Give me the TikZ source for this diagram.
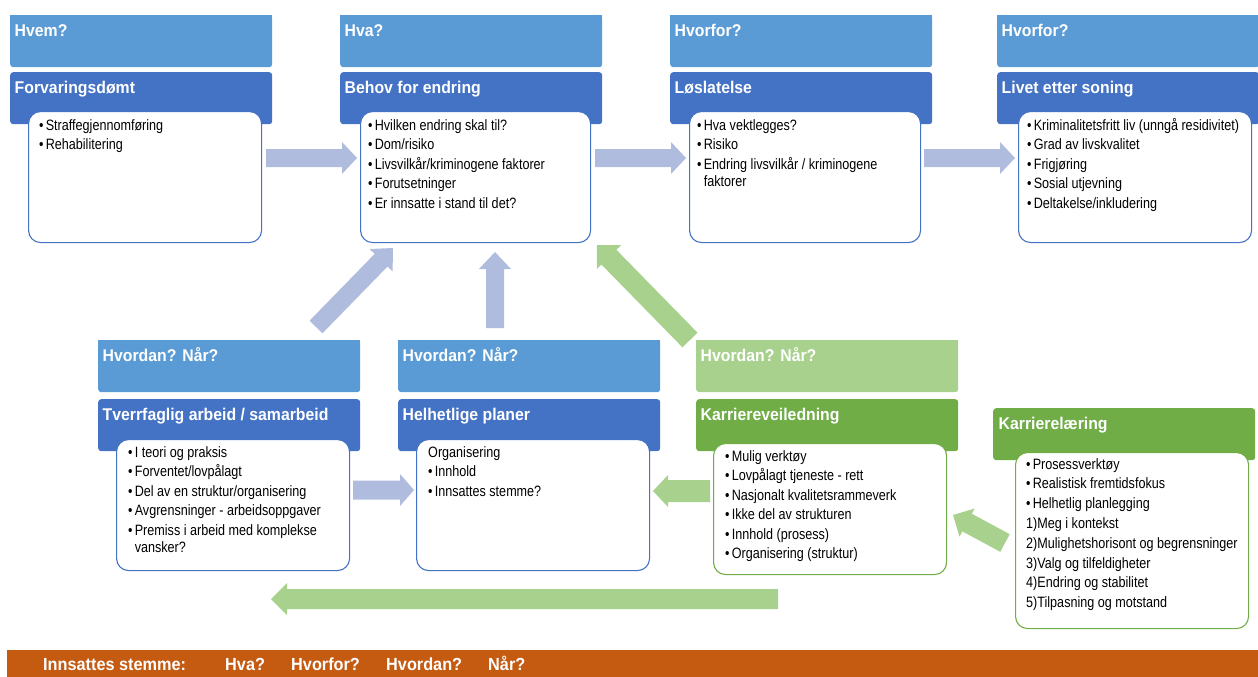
\documentclass[tikz,border=0pt]{standalone}
\usepackage{fontspec}
\setmainfont{Liberation Sans}
\newfontfamily\bodyf[FakeStretch=0.84]{Liberation Sans}
\newfontfamily\headf[FakeStretch=0.93]{Liberation Sans}
\usetikzlibrary{calc}
\definecolor{lblue}{HTML}{5B9BD5}
\definecolor{dblue}{HTML}{4472C4}
\definecolor{lgreen}{HTML}{A9D18E}
\definecolor{dgreen}{HTML}{70AD47}
\definecolor{arrblue}{RGB}{176,188,222}
\definecolor{arrgreen}{HTML}{A9D18E}
\definecolor{barorange}{HTML}{C55A11}
\newcommand{\bitem}{•\hspace{2.2pt}}
\newcommand{\bgap}{\phantom{•}\hspace{2.2pt}}
\newcommand\blockarrow[6]{%
  \coordinate (#5-h) at ($(#6)!#4!(#5)$);
  \fill[#1] ($(#5)!#2!90:(#6)$) -- ($(#5-h)!#2!90:(#6)$) -- ($(#5-h)!#3!90:(#6)$) -- (#6)
    -- ($(#5-h)!#3!-90:(#6)$) -- ($(#5-h)!#2!-90:(#6)$) -- ($(#5)!#2!-90:(#6)$) -- cycle;}
\tikzset{
  hdrbox/.style={rounded corners=3pt, minimum width=262pt, minimum height=52pt, anchor=north west, inner sep=0pt, draw=none},
  lhd/.style={hdrbox, fill=lblue},
  dhd/.style={hdrbox, fill=dblue},
  lghd/.style={hdrbox, fill=lgreen},
  dghd/.style={hdrbox, fill=dgreen},
  hlabel/.style={font=\headf\bfseries\fontsize{17}{20}\selectfont, text=white, anchor=base west, inner sep=0pt},
  barlabel/.style={font=\headf\bfseries\fontsize{17.5}{20}\selectfont, text=white, anchor=base west, inner sep=0pt},
  wbox/.style={fill=white, draw=dblue, line width=1.1pt, rounded corners=12pt, anchor=north west, inner sep=0pt, minimum width=233pt, minimum height=131pt},
  wgbox/.style={wbox, draw=dgreen},
  btext/.style={font=\bodyf\fontsize{15}{19.5}\selectfont, anchor=base west, inner sep=0pt},
  btextw/.style={font=\bodyf\fontsize{15}{19.8}\selectfont, anchor=base west, inner sep=0pt},
}
\begin{document}
\begin{tikzpicture}[x=1pt,y=-1pt]
\useasboundingbox (0,0) rectangle (1258,677);

% ---------- top row ----------
\foreach \xx/\nm in {10/t1,340/t2,670/t3,997/t4}{
  \node[lhd] (\nm l) at (\xx,15) {};
  \fill[lblue] (\xx,15) rectangle ++(262,20);
  \node[dhd] (\nm d) at (\xx,72) {};
}
\node[hlabel] (t1lt) at (14.5,37) {Hvem?};
\node[hlabel] (t2lt) at (344.5,37) {Hva?};
\node[hlabel] (t3lt) at (674.5,37) {Hvorfor?};
\node[hlabel] (t4lt) at (1001.5,37) {Hvorfor?};
\node[hlabel] (t1dt) at (14.5,93) {Forvaringsdømt};
\node[hlabel] (t2dt) at (344.5,93) {Behov for endring};
\node[hlabel] (t3dt) at (674.5,93) {Løslatelse};
\node[hlabel] (t4dt) at (1001.5,93) {Livet etter soning};

\node[wbox] (b1) at (28,111) {};
\node[wbox, minimum width=230pt] (b2) at (360,111) {};
\node[wbox, minimum width=231pt] (b3) at (689,111) {};
\node[wbox] (b4) at (1018,111) {};

\node[btext] (b1t) at (39,130) {\begin{tabular}[t]{@{}l@{}}
\bitem Straffegjennomføring\\ \bitem Rehabilitering\end{tabular}};
\node[btext] (b2t) at (368,130) {\begin{tabular}[t]{@{}l@{}}
\bitem Hvilken endring skal til?\\ \bitem Dom/risiko\\ \bitem Livsvilkår/kriminogene faktorer\\
\bitem Forutsetninger\\ \bitem Er innsatte i stand til det?\end{tabular}};
\node[btext] (b3t) at (697,130) {\begin{tabular}[t]{@{}l@{}}
\bitem Hva vektlegges?\\ \bitem Risiko\\ \bitem Endring livsvilkår / kriminogene\\[-2.5pt]
\bgap faktorer\end{tabular}};
\node[btext] (b4t) at (1027,130) {\begin{tabular}[t]{@{}l@{}}
\bitem Kriminalitetsfritt liv (unngå residivitet)\\ \bitem Grad av livskvalitet\\ \bitem Frigjøring\\
\bitem Sosial utjevning\\ \bitem Deltakelse/inkludering\end{tabular}};

% ---------- bottom row ----------
\node[lhd] (m1l) at (98,340) {};
\fill[lblue] (98,340) rectangle ++(262,20);
\node[dhd] (m1d) at (98,399) {};
\node[lhd] (m2l) at (398,340) {};
\fill[lblue] (398,340) rectangle ++(262,20);
\node[dhd] (m2d) at (398,399) {};
\node[lghd] (m3l) at (696,340) {};
\fill[lgreen] (696,340) rectangle ++(262,20);
\node[dghd] (m3d) at (696,399) {};
\node[dghd] (m4d) at (993,408) {};

\node[hlabel] (m1lt) at (102.5,361) {Hvordan? Når?};
\node[hlabel] (m2lt) at (402.5,361) {Hvordan? Når?};
\node[hlabel] (m3lt) at (700.5,361) {Hvordan? Når?};
\node[hlabel] (m1dt) at (102.5,420) {Tverrfaglig arbeid / samarbeid};
\node[hlabel] (m2dt) at (402.5,420) {Helhetlige planer};
\node[hlabel] (m3dt) at (700.5,420) {Karriereveiledning};
\node[hlabel] (m4dt) at (998.5,429) {Karrierelæring};

\node[wbox] (c1) at (116,439) {};
\node[wbox] (c2) at (416,439) {};
\node[wgbox] (c3) at (713,443) {};
\node[wgbox, minimum height=176pt] (c4) at (1015,452) {};

\node[btext] (c1t) at (128,457) {\begin{tabular}[t]{@{}l@{}}
\bitem I teori og praksis\\ \bitem Forventet/lovpålagt\\ \bitem Del av en struktur/organisering\\
\bitem Avgrensninger - arbeidsoppgaver\\ \bitem Premiss i arbeid med komplekse\\[-2.5pt]
\bgap vansker?\end{tabular}};
\node[btext] (c2t) at (428,457) {\begin{tabular}[t]{@{}l@{}}
Organisering\\ \bitem Innhold\\ \bitem Innsattes stemme?\end{tabular}};
\node[btext] (c3t) at (725,461) {\begin{tabular}[t]{@{}l@{}}
\bitem Mulig verktøy\\ \bitem Lovpålagt tjeneste - rett\\ \bitem Nasjonalt kvalitetsrammeverk\\
\bitem Ikke del av strukturen\\ \bitem Innhold (prosess)\\ \bitem Organisering (struktur)\end{tabular}};
\node[btextw] (c4t) at (1026,469) {\begin{tabular}[t]{@{}l@{}}
\bitem Prosessverktøy\\ \bitem Realistisk fremtidsfokus\\ \bitem Helhetlig planlegging\\
1)Meg i kontekst\\ 2)Mulighetshorisont og begrensninger\\ 3)Valg og tilfeldigheter\\
4)Endring og stabilitet\\ 5)Tilpasning og motstand\end{tabular}};

% ---------- arrows ----------
\coordinate (a1s) at (266,158); \coordinate (a1e) at (357,158);
\coordinate (a2s) at (595,158); \coordinate (a2e) at (686,158);
\coordinate (a3s) at (924,158); \coordinate (a3e) at (1015,158);
\blockarrow{arrblue}{9pt}{16pt}{15pt}{a1s}{a1e}
\blockarrow{arrblue}{9pt}{16pt}{15pt}{a2s}{a2e}
\blockarrow{arrblue}{9pt}{16pt}{15pt}{a3s}{a3e}

\coordinate (d1s) at (316,327); \coordinate (d1e) at (393,248);
\blockarrow{arrblue}{9pt}{16pt}{17pt}{d1s}{d1e}
\coordinate (v1s) at (495,328); \coordinate (v1e) at (495,252);
\blockarrow{arrblue}{9pt}{16pt}{17pt}{v1s}{v1e}
\coordinate (h1s) at (353,490); \coordinate (h1e) at (414,490);
\blockarrow{arrblue}{9.5pt}{16pt}{14pt}{h1s}{h1e}

\coordinate (g1s) at (690,340); \coordinate (g1e) at (597,245);
\blockarrow{arrgreen}{10.5pt}{17pt}{17pt}{g1s}{g1e}
\coordinate (g2s) at (1005,543); \coordinate (g2e) at (953,515);
\blockarrow{arrgreen}{10pt}{16pt}{16pt}{g2s}{g2e}
\coordinate (g3s) at (710,491); \coordinate (g3e) at (653,491);
\blockarrow{arrgreen}{11pt}{16pt}{15pt}{g3s}{g3e}
\coordinate (g4s) at (778,599); \coordinate (g4e) at (271,599);
\blockarrow{arrgreen}{10pt}{16pt}{16pt}{g4s}{g4e}

% ---------- bottom bar ----------
\fill[barorange] (7,650) rectangle (1258,677);
\node[barlabel] (q0) at (43,670) {Innsattes stemme:};
\node[barlabel] (q1) at (225,670) {Hva?};
\node[barlabel] (q2) at (291,670) {Hvorfor?};
\node[barlabel] (q3) at (386,670) {Hvordan?};
\node[barlabel] (q4) at (488,670) {Når?};
\end{tikzpicture}
\end{document}
